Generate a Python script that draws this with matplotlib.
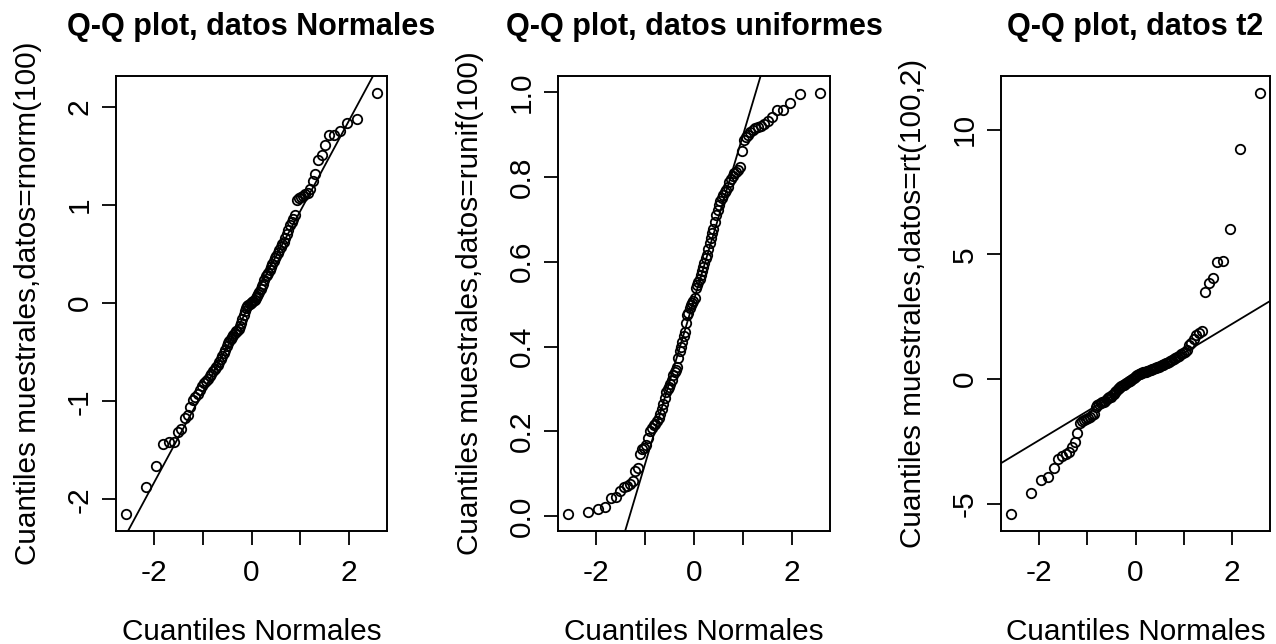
import matplotlib
matplotlib.use("Agg")
import matplotlib.pyplot as plt
import numpy as np
from statistics import NormalDist

# Sorted sample values (100 observations per panel)
datos_normales = [
    -2.15, -1.87, -1.66, -1.44, -1.42, -1.42, -1.31, -1.28, -1.17, -1.14,
    -1.06, -0.99, -0.96, -0.93, -0.89, -0.84, -0.81, -0.79, -0.77, -0.74,
    -0.72, -0.69, -0.67, -0.65, -0.63, -0.60, -0.57, -0.54, -0.51, -0.48,
    -0.44, -0.41, -0.39, -0.37, -0.35, -0.33, -0.31, -0.29, -0.28, -0.26,
    -0.23, -0.20, -0.16, -0.12, -0.08, -0.05, -0.03, -0.02, -0.01, 0.00,
    0.01, 0.02, 0.03, 0.05, 0.07, 0.09, 0.11, 0.14, 0.17, 0.19,
    0.23, 0.27, 0.29, 0.31, 0.34, 0.37, 0.40, 0.43, 0.46, 0.48,
    0.51, 0.54, 0.57, 0.60, 0.625, 0.665, 0.70, 0.74, 0.79, 0.82,
    0.86, 0.90, 1.05, 1.07, 1.08, 1.09, 1.11, 1.12, 1.165, 1.24,
    1.31, 1.46, 1.51, 1.61, 1.71, 1.71, 1.75, 1.83, 1.87, 2.14,
]

datos_uniformes = [
    0.005, 0.010, 0.016, 0.021, 0.043, 0.045, 0.059, 0.070, 0.072, 0.075,
    0.084, 0.107, 0.114, 0.147, 0.158, 0.162, 0.168, 0.184, 0.200, 0.207,
    0.214, 0.218, 0.225, 0.232, 0.242, 0.252, 0.265, 0.278, 0.294, 0.300,
    0.305, 0.311, 0.322, 0.333, 0.340, 0.345, 0.352, 0.372, 0.390, 0.398,
    0.410, 0.424, 0.435, 0.455, 0.474, 0.480, 0.490, 0.497, 0.503, 0.507,
    0.514, 0.537, 0.545, 0.552, 0.560, 0.568, 0.578, 0.588, 0.596, 0.608,
    0.615, 0.631, 0.645, 0.655, 0.668, 0.678, 0.694, 0.710, 0.722, 0.733,
    0.742, 0.749, 0.757, 0.765, 0.770, 0.776, 0.787, 0.796, 0.802, 0.808,
    0.812, 0.816, 0.824, 0.860, 0.888, 0.893, 0.898, 0.906, 0.910, 0.914,
    0.918, 0.921, 0.925, 0.932, 0.941, 0.957, 0.958, 0.975, 0.996, 0.998,
]

datos_t2 = [
    -5.41, -4.56, -4.03, -3.92, -3.57, -3.19, -3.10, -3.01, -2.90, -2.70,
    -2.53, -2.17, -1.77, -1.66, -1.62, -1.58, -1.55, -1.50, -1.44, -1.40,
    -1.11, -1.05, -1.00, -0.96, -0.93, -0.90, -0.86, -0.81, -0.77, -0.73,
    -0.70, -0.64, -0.58, -0.52, -0.46, -0.41, -0.37, -0.33, -0.29, -0.25,
    -0.22, -0.19, -0.15, -0.12, -0.09, -0.06, -0.02, 0.02, 0.06, 0.10,
    0.14, 0.16, 0.19, 0.21, 0.23, 0.25, 0.27, 0.28, 0.30, 0.32,
    0.34, 0.36, 0.38, 0.40, 0.42, 0.43, 0.45, 0.48, 0.50, 0.53,
    0.55, 0.58, 0.60, 0.63, 0.66, 0.69, 0.72, 0.75, 0.79, 0.83,
    0.88, 0.93, 0.99, 1.05, 1.09, 1.15, 1.35, 1.45, 1.62, 1.78,
    1.86, 1.93, 3.50, 3.87, 4.07, 4.69, 4.72, 6.00, 9.22, 11.47,
]

titulos = ["Q-Q plot, datos Normales", "Q-Q plot, datos uniformes", "Q-Q plot, datos t2"]
etiquetas_y = [
    "Cuantiles muestrales,datos=rnorm(100)",
    "Cuantiles muestrales,datos=runif(100)",
    "Cuantiles muestrales,datos=rt(100,2)",
]
etiqueta_x = "Cuantiles Normales"
xticks = [-2, -1, 0, 1, 2]
xticklabels = ["-2", "", "0", "", "2"]
yticks_list = [
    [-2, -1, 0, 1, 2],
    [0.0, 0.2, 0.4, 0.6, 0.8, 1.0],
    [-5, 0, 5, 10],
]
yticklabels_list = [
    ["-2", "-1", "0", "1", "2"],
    ["0.0", "0.2", "0.4", "0.6", "0.8", "1.0"],
    ["-5", "0", "5", "10"],
]

plt.rcParams["font.family"] = ["Liberation Sans", "DejaVu Sans"]

W, H = 1276, 644
fig = plt.figure(figsize=(W / 100, H / 100), dpi=100)
fig.patch.set_facecolor("white")

# axes boxes in pixels: (left, right)
cajas = [(116, 387), (558, 830), (1001, 1270)]
top_px, bottom_px = 76, 531


def r_range(v):
    lo, hi = min(v), max(v)
    d = (hi - lo) * 0.04
    return lo - d, hi + d


nd = NormalDist()
series = [datos_normales, datos_uniformes, datos_t2]

for k, datos in enumerate(series):
    y = np.sort(np.asarray(datos, dtype=float))
    n = len(y)
    probs = [(i + 0.5) / n for i in range(n)]
    x = np.array([nd.inv_cdf(p) for p in probs])

    left, right = cajas[k]
    ax = fig.add_axes([left / W, (H - bottom_px) / H,
                       (right - left) / W, (bottom_px - top_px) / H])
    ax.plot(x, y, linestyle="none", marker="o", markersize=6.8,
            markerfacecolor="none", markeredgecolor="black", markeredgewidth=1.3)

    # reference line through the first and third quartiles
    q1, q3 = np.percentile(y, [25, 75])
    z1, z3 = nd.inv_cdf(0.25), nd.inv_cdf(0.75)
    slope = (q3 - q1) / (z3 - z1)
    intercept = q1 - slope * z1
    ax.axline((0, intercept), slope=slope, color="black", linewidth=1.3)

    ax.set_xlim(*r_range(x))
    ax.set_ylim(*r_range(y))

    ax.set_xticks(xticks)
    ax.set_xticklabels(xticklabels, fontsize=21.5)
    ax.set_yticks(yticks_list[k])
    ax.set_yticklabels(yticklabels_list[k], fontsize=21.5, rotation=90, va="center")
    ax.tick_params(axis="both", direction="out", length=10, width=1.3, color="black")
    ax.tick_params(axis="x", pad=10)
    ax.tick_params(axis="y", pad=6)
    for s in ax.spines.values():
        s.set_linewidth(1.4)
        s.set_color("black")

    hbox = bottom_px - top_px
    ax.text(0.5, 1 + 41 / hbox, titulos[k], transform=ax.transAxes,
            ha="center", va="baseline", fontsize=22, fontweight="bold")
    ax.set_xlabel(etiqueta_x, fontsize=21.4, va="baseline")
    ax.xaxis.set_label_coords(0.5, -109 / hbox)
    ax.set_ylabel(etiquetas_y[k], fontsize=21.4, va="baseline")
    ax.yaxis.set_label_coords(-80 / (right - left), 0.5)

fig.savefig("out.png", dpi=100, facecolor="white")
